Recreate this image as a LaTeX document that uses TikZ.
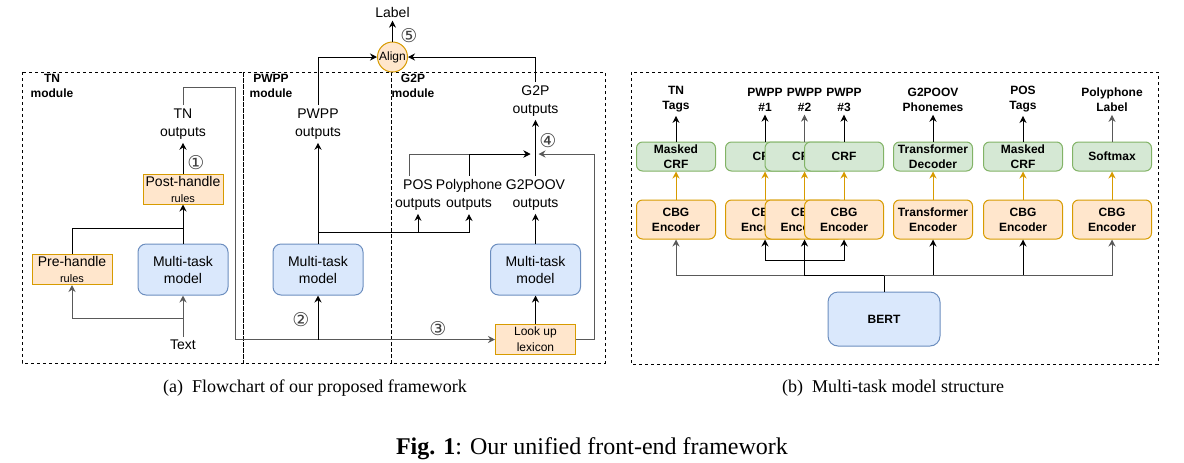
\documentclass[tikz,border=0pt]{standalone}
\usepackage{fontspec}
\setmainfont{Liberation Serif}
\setsansfont{Liberation Sans}
\newfontfamily\circfont{DejaVu Sans}
\usetikzlibrary{arrows.meta,positioning}

\definecolor{blueFill}{HTML}{DAE8FC}
\definecolor{blueLine}{HTML}{6C8EBF}
\definecolor{orangeFill}{HTML}{FFE6CC}
\definecolor{orangeLine}{HTML}{D79B00}
\definecolor{greenFill}{HTML}{D5E8D4}
\definecolor{greenLine}{HTML}{82B366}
\definecolor{lineGray}{HTML}{595959}

\tikzset{
  lbl/.style={font=\sffamily\fontsize{7}{9}\selectfont, align=center, inner sep=1.5pt},
  modlbl/.style={font=\sffamily\bfseries\fontsize{6}{7.5}\selectfont, align=center, inner sep=0pt},
  mtm/.style={draw=blueLine, fill=blueFill, rounded corners=4pt, minimum width=45pt, minimum height=25.5pt, align=center, inner sep=0pt, font=\sffamily\fontsize{7}{8.5}\selectfont},
  rulebox/.style={draw=orangeLine, fill=orangeFill, minimum width=40pt, minimum height=15pt, align=center, inner sep=0pt, font=\sffamily\fontsize{7}{8}\selectfont},
  num/.style={font=\circfont\fontsize{9.5}{9.5}\selectfont, text=black!75, inner sep=0pt},
  arr/.style={-{Stealth[length=3.5pt,width=3.5pt]}},
  dashbox/.style={dash pattern=on 1.5pt off 1.5pt},
  bhead/.style={font=\sffamily\bfseries\fontsize{6}{7.5}\selectfont, align=center, inner sep=1.5pt},
  decbox/.style={draw=greenLine, fill=greenFill, rounded corners=3pt, minimum width=39.5pt, minimum height=14.5pt, align=center, inner sep=0pt, font=\sffamily\bfseries\fontsize{6}{7.5}\selectfont},
  encbox/.style={draw=orangeLine, fill=orangeFill, rounded corners=3pt, minimum width=39.5pt, minimum height=19.5pt, align=center, inner sep=0pt, font=\sffamily\bfseries\fontsize{6}{7.5}\selectfont},
  orarr/.style={arr, draw=orangeLine},
  grayln/.style={draw=lineGray}
}

\begin{document}
\begin{tikzpicture}[x=0.5pt,y=-0.5pt,line width=0.5pt]
\useasboundingbox (0,0) rectangle (1184,462);

% (a) flowchart
\draw[dashbox] (22,72) rectangle (243,363);
\draw[dashbox] (243,72) rectangle (391,363);
\draw[dashbox] (391,72) rectangle (605,363);
\node[modlbl] (tnmod) at (52,86) {TN\\module};
\node[modlbl] (pwmod) at (271,86) {PWPP\\module};
\node[modlbl] (g2pmod) at (413,86) {G2P\\module};

\node[lbl] (text) at (183,345) {Text};
\node[mtm] (tnmtm) at (183,269.5) {Multi-task\\model};
\node[rulebox] (pre) at (72,269.5) {Pre-handle\\{\fontsize{5.5}{6}\selectfont rules}};
\node[rulebox] (post) at (183,189) {Post-handle\\{\fontsize{5.5}{6}\selectfont rules}};
\node[lbl] (tnout) at (183,124) {TN\\outputs};

\node[mtm] (pwmtm) at (318,269.5) {Multi-task\\model};
\node[lbl] (pwout) at (318,124) {PWPP\\outputs};

\node[draw=orangeLine, fill=orangeFill, circle, minimum size=15pt, inner sep=0pt, font=\sffamily\fontsize{6}{7}\selectfont] (align) at (392.5,57) {Align};
\node[lbl] (label) at (392.5,12) {Label};
\node[lbl] (g2pout) at (535.5,101) {G2P\\outputs};
\node[lbl] (posout) at (418,195) {POS\\outputs};
\node[lbl] (polyout) at (469,195) {Polyphone\\outputs};
\node[lbl] (oovout) at (535.5,195) {G2POOV\\outputs};
\node[mtm] (g2pmtm) at (535.5,269.5) {Multi-task\\model};
\node[rulebox, font=\sffamily\fontsize{6}{8}\selectfont] (lex) at (535.5,339.5) {Look up\\lexicon};

\coordinate (txtsplit) at (183,318);
\coordinate (presplit) at (183,228);
\coordinate (tntop) at (235,87);
\coordinate (pwsplit) at (318,232);
\coordinate (merge) at (535.5,154);

\draw[arr,grayln] (text) -- (tnmtm);
\draw[arr,grayln] (txtsplit) -| (pre.south);
\draw (pre.north) |- (presplit);
\draw[arr] (tnmtm) -- (post);
\draw[arr] (post) -- (tnout);
\draw[arr,grayln] (tnout.north) |- (tntop) |- (lex.west);

\draw[arr] (pwmtm.south |- lex.west) -- (pwmtm.south);
\draw[arr] (pwmtm) -- (pwout);
\draw[arr] (pwsplit) -| (polyout.south);
\draw[arr] (posout.south |- pwsplit) -- (posout.south);
\draw[arr] (pwout.north) |- (align.west);

\draw[arr] (align) -- (label);
\draw[arr] (g2pout.north) |- (align.east);
\draw[arr] (lex) -- (g2pmtm);
\draw[arr] (g2pmtm) -- (oovout);
\draw[arr] (oovout) -- (g2pout);
\draw[arr,grayln] ([xshift=-4.5pt]posout.north) |- ([xshift=-2.5pt]merge);
\draw[arr] (polyout.north) |- ([xshift=-2.5pt]merge);
\draw[arr,grayln] (lex.east) -- ++(18,0) |- ([xshift=1.5pt]merge);

\node[num] (n1) at (196,163) {①};
\node[num] (n2) at (301,320) {②};
\node[num] (n3) at (438,329) {③};
\node[num] (n4) at (548,141) {④};
\node[num] (n5) at (409,36) {⑤};

% (b) multi-task model
\draw[dashbox] (631,72) rectangle (1158,364);

\node[bhead] (tnTag) at (676,99.5) {TN\\Tags};
\node[decbox] (tnDec) at (676,156.5) {Masked\\CRF};
\node[encbox] (tnEnc) at (676,219.5) {CBG\\Encoder};

\node[bhead] (pwATag) at (765,99.5) {PWPP\\\#1};
\node[decbox] (pwADec) at (765,156.5) {CRF};
\node[encbox] (pwAEnc) at (765,219.5) {CBG\\Encoder};
\node[bhead] (pwBTag) at (804.5,99.5) {PWPP\\\#2};
\node[decbox] (pwBDec) at (804.5,156.5) {CRF};
\node[encbox] (pwBEnc) at (804.5,219.5) {CBG\\Encoder};
\node[bhead] (pwCTag) at (844,99.5) {PWPP\\\#3};
\node[decbox] (pwCDec) at (844,156.5) {CRF};
\node[encbox] (pwCEnc) at (844,219.5) {CBG\\Encoder};

\node[bhead] (oovTag) at (933,99.5) {G2POOV\\Phonemes};
\node[decbox] (oovDec) at (933,156.5) {Transformer\\Decoder};
\node[encbox] (oovEnc) at (933,219.5) {Transformer\\Encoder};

\node[bhead] (posTag) at (1023,99.5) {POS\\Tags};
\node[decbox] (posDec) at (1023,156.5) {Masked\\CRF};
\node[encbox] (posEnc) at (1023,219.5) {CBG\\Encoder};

\node[bhead] (polyTag) at (1112,99.5) {Polyphone\\Label};
\node[decbox] (polyDec) at (1112,156.5) {Softmax};
\node[encbox] (polyEnc) at (1112,219.5) {CBG\\Encoder};

\node[draw=blueLine, fill=blueFill, rounded corners=5pt, minimum width=56pt, minimum height=27pt, inner sep=0pt, font=\sffamily\bfseries\fontsize{6}{7.5}\selectfont] (bert) at (884,319) {BERT};

\draw[arr] (tnDec) -- (tnTag);
\draw[arr] (pwADec) -- (pwATag);
\draw[arr,grayln] (pwBDec) -- (pwBTag);
\draw[arr] (pwCDec) -- (pwCTag);
\draw[arr] (oovDec) -- (oovTag);
\draw[arr] (posDec) -- (posTag);
\draw[arr,grayln] (polyDec) -- (polyTag);

\draw[orarr] (tnEnc) -- (tnDec);
\draw[orarr] (pwAEnc) -- (pwADec);
\draw[orarr] (pwBEnc) -- (pwBDec);
\draw[orarr] (pwCEnc) -- (pwCDec);
\draw[orarr] (oovEnc) -- (oovDec);
\draw[orarr] (posEnc) -- (posDec);
\draw[orarr] (polyEnc) -- (polyDec);

\draw (bert.north) -- ++(0,-16) coordinate (bus);
\coordinate (pwbus) at (804.5,260);
\draw[arr,grayln] (bus) -| (tnEnc.south);
\draw[arr] (bus) -| (pwBEnc.south);
\draw[arr] (pwbus) -| (pwAEnc.south);
\draw[arr] (pwbus) -| (pwCEnc.south);
\draw[arr] (bus) -| (oovEnc.south);
\draw[arr] (bus) -| (posEnc.south);
\draw[arr,grayln] (bus) -| (polyEnc.south);

% captions
\node[font=\fontsize{9}{11}\selectfont] (capa) at (315,388) {(a)\enspace Flowchart of our proposed framework};
\node[font=\fontsize{9}{11}\selectfont] (capb) at (893,388) {(b)\enspace Multi-task model structure};
\node[font=\fontsize{12}{14}\selectfont] (capfig) at (592,449) {\textbf{Fig. 1}: Our unified front-end framework};

\end{tikzpicture}
\end{document}
